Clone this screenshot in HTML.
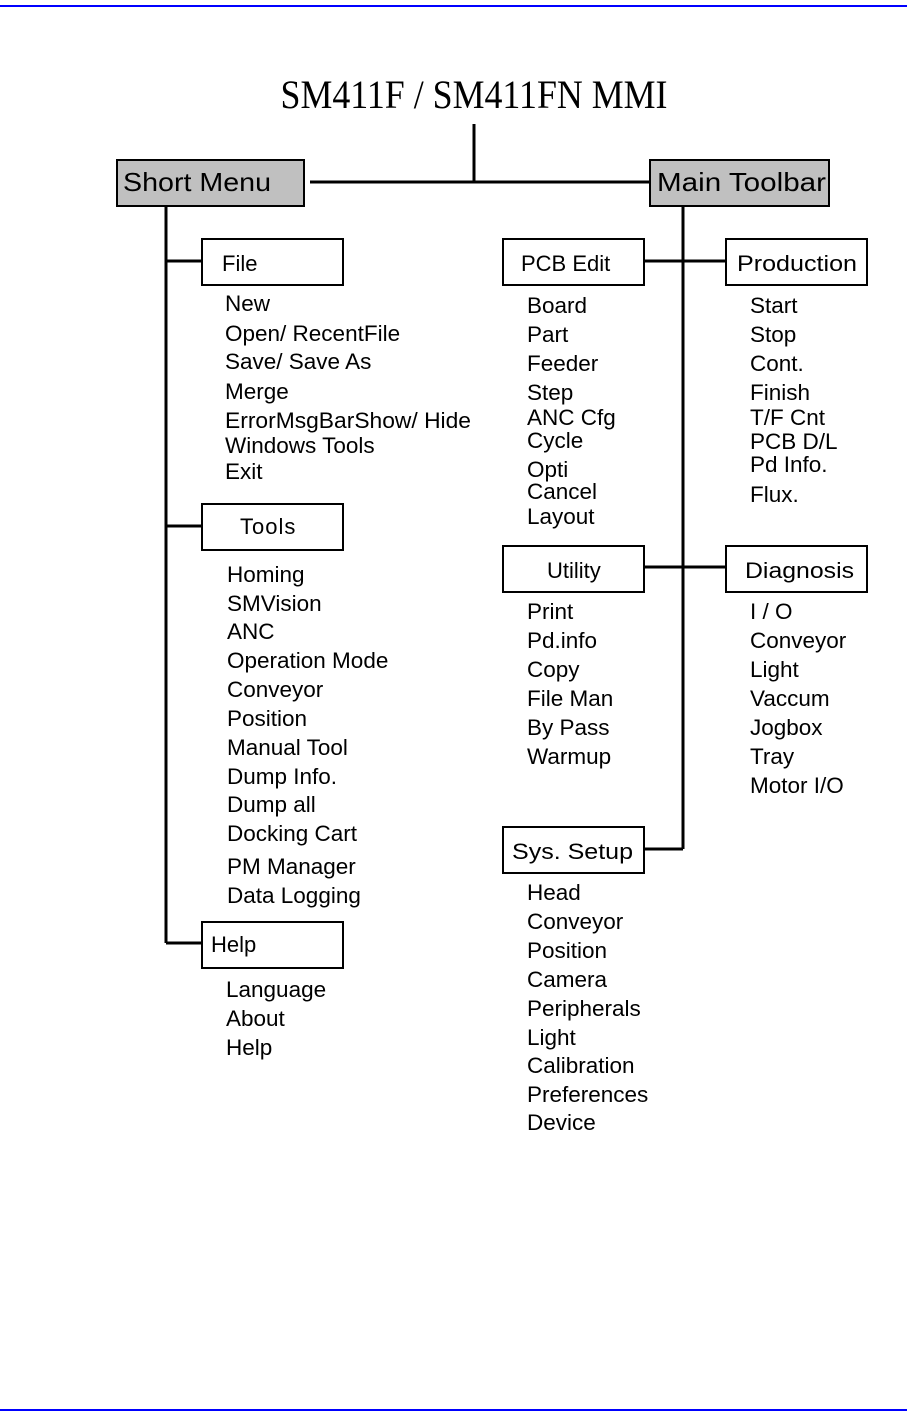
<!DOCTYPE html>
<html><head><meta charset="utf-8"><style>
html,body{margin:0;padding:0;background:#fff}
svg{display:block}
text{font-family:"Liberation Sans",sans-serif;fill:#000}
.it{font-size:22.5px}
.bx{font-size:22px}
</style></head><body>
<svg width="907" height="1421" viewBox="0 0 907 1421" xmlns="http://www.w3.org/2000/svg">
<rect x="0" y="5" width="907" height="2" fill="#0000ff"/>
<rect x="0" y="1409" width="907" height="2" fill="#0000ff"/>
<text x="474" y="108" text-anchor="middle" style="font-family:'Liberation Serif',serif;font-size:40px" textLength="387" lengthAdjust="spacingAndGlyphs">SM411F / SM411FN MMI</text>
<g stroke="#000" stroke-width="3" fill="none">
<line x1="474" y1="124" x2="474" y2="182"/>
<line x1="310" y1="182" x2="650" y2="182"/>
<line x1="166" y1="206" x2="166" y2="943"/>
<line x1="166" y1="261" x2="201" y2="261"/>
<line x1="166" y1="526" x2="201" y2="526"/>
<line x1="166" y1="943" x2="201" y2="943"/>
<line x1="683" y1="206" x2="683" y2="849"/>
<line x1="644" y1="261" x2="725" y2="261"/>
<line x1="644" y1="567" x2="725" y2="567"/>
<line x1="644" y1="849" x2="683" y2="849"/>
</g>
<g stroke="#000" stroke-width="2">
<rect x="117" y="160" width="187" height="46" fill="#c0c0c0"/>
<rect x="650" y="160" width="179" height="46" fill="#c0c0c0"/>
<rect x="202" y="239" width="141" height="46" fill="#fff"/>
<rect x="202" y="504" width="141" height="46" fill="#fff"/>
<rect x="202" y="922" width="141" height="46" fill="#fff"/>
<rect x="503" y="239" width="141" height="46" fill="#fff"/>
<rect x="726" y="239" width="141" height="46" fill="#fff"/>
<rect x="503" y="546" width="141" height="46" fill="#fff"/>
<rect x="726" y="546" width="141" height="46" fill="#fff"/>
<rect x="503" y="827" width="141" height="46" fill="#fff"/>
</g>
<text x="123" y="191" style="font-size:26px" textLength="148" lengthAdjust="spacingAndGlyphs">Short Menu</text>
<text x="657" y="191" style="font-size:26px" textLength="169" lengthAdjust="spacingAndGlyphs">Main Toolbar</text>
<text class="bx" x="222" y="271">File</text>
<text class="bx" x="240" y="534" style="letter-spacing:1px">Tools</text>
<text class="bx" x="211" y="952">Help</text>
<text class="bx" x="521" y="271">PCB Edit</text>
<text class="bx" x="737" y="271" textLength="120" lengthAdjust="spacingAndGlyphs">Production</text>
<text class="bx" x="547" y="578">Utility</text>
<text class="bx" x="745" y="578" textLength="109" lengthAdjust="spacingAndGlyphs">Diagnosis</text>
<text class="bx" x="512" y="859" textLength="121" lengthAdjust="spacingAndGlyphs">Sys. Setup</text>
<g class="it">
<text x="225" y="311">New</text>
<text x="225" y="341">Open/ RecentFile</text>
<text x="225" y="369">Save/ Save As</text>
<text x="225" y="399">Merge</text>
<text x="225" y="428" textLength="246" lengthAdjust="spacingAndGlyphs">ErrorMsgBarShow/ Hide</text>
<text x="225" y="453">Windows Tools</text>
<text x="225" y="479">Exit</text>

<text x="227" y="582">Homing</text>
<text x="227" y="611">SMVision</text>
<text x="227" y="639">ANC</text>
<text x="227" y="668">Operation Mode</text>
<text x="227" y="697">Conveyor</text>
<text x="227" y="726">Position</text>
<text x="227" y="755">Manual Tool</text>
<text x="227" y="784">Dump Info.</text>
<text x="227" y="812">Dump all</text>
<text x="227" y="841">Docking Cart</text>
<text x="227" y="874">PM Manager</text>
<text x="227" y="903">Data Logging</text>

<text x="226" y="997">Language</text>
<text x="226" y="1026">About</text>
<text x="226" y="1055">Help</text>

<text x="527" y="313">Board</text>
<text x="527" y="342">Part</text>
<text x="527" y="371">Feeder</text>
<text x="527" y="400">Step</text>
<text x="527" y="425">ANC Cfg</text>
<text x="527" y="448">Cycle</text>
<text x="527" y="477">Opti</text>
<text x="527" y="499">Cancel</text>
<text x="527" y="524">Layout</text>

<text x="750" y="313">Start</text>
<text x="750" y="342">Stop</text>
<text x="750" y="371">Cont.</text>
<text x="750" y="400">Finish</text>
<text x="750" y="425">T/F Cnt</text>
<text x="750" y="449">PCB D/L</text>
<text x="750" y="472">Pd Info.</text>
<text x="750" y="502">Flux.</text>

<text x="527" y="619">Print</text>
<text x="527" y="648">Pd.info</text>
<text x="527" y="677">Copy</text>
<text x="527" y="706">File Man</text>
<text x="527" y="735">By Pass</text>
<text x="527" y="764">Warmup</text>

<text x="750" y="619">I / O</text>
<text x="750" y="648">Conveyor</text>
<text x="750" y="677">Light</text>
<text x="750" y="706">Vaccum</text>
<text x="750" y="735">Jogbox</text>
<text x="750" y="764">Tray</text>
<text x="750" y="793">Motor I/O</text>

<text x="527" y="900">Head</text>
<text x="527" y="929">Conveyor</text>
<text x="527" y="958">Position</text>
<text x="527" y="987">Camera</text>
<text x="527" y="1016">Peripherals</text>
<text x="527" y="1045">Light</text>
<text x="527" y="1073">Calibration</text>
<text x="527" y="1102">Preferences</text>
<text x="527" y="1130">Device</text>
</g>
</svg>
</body></html>
